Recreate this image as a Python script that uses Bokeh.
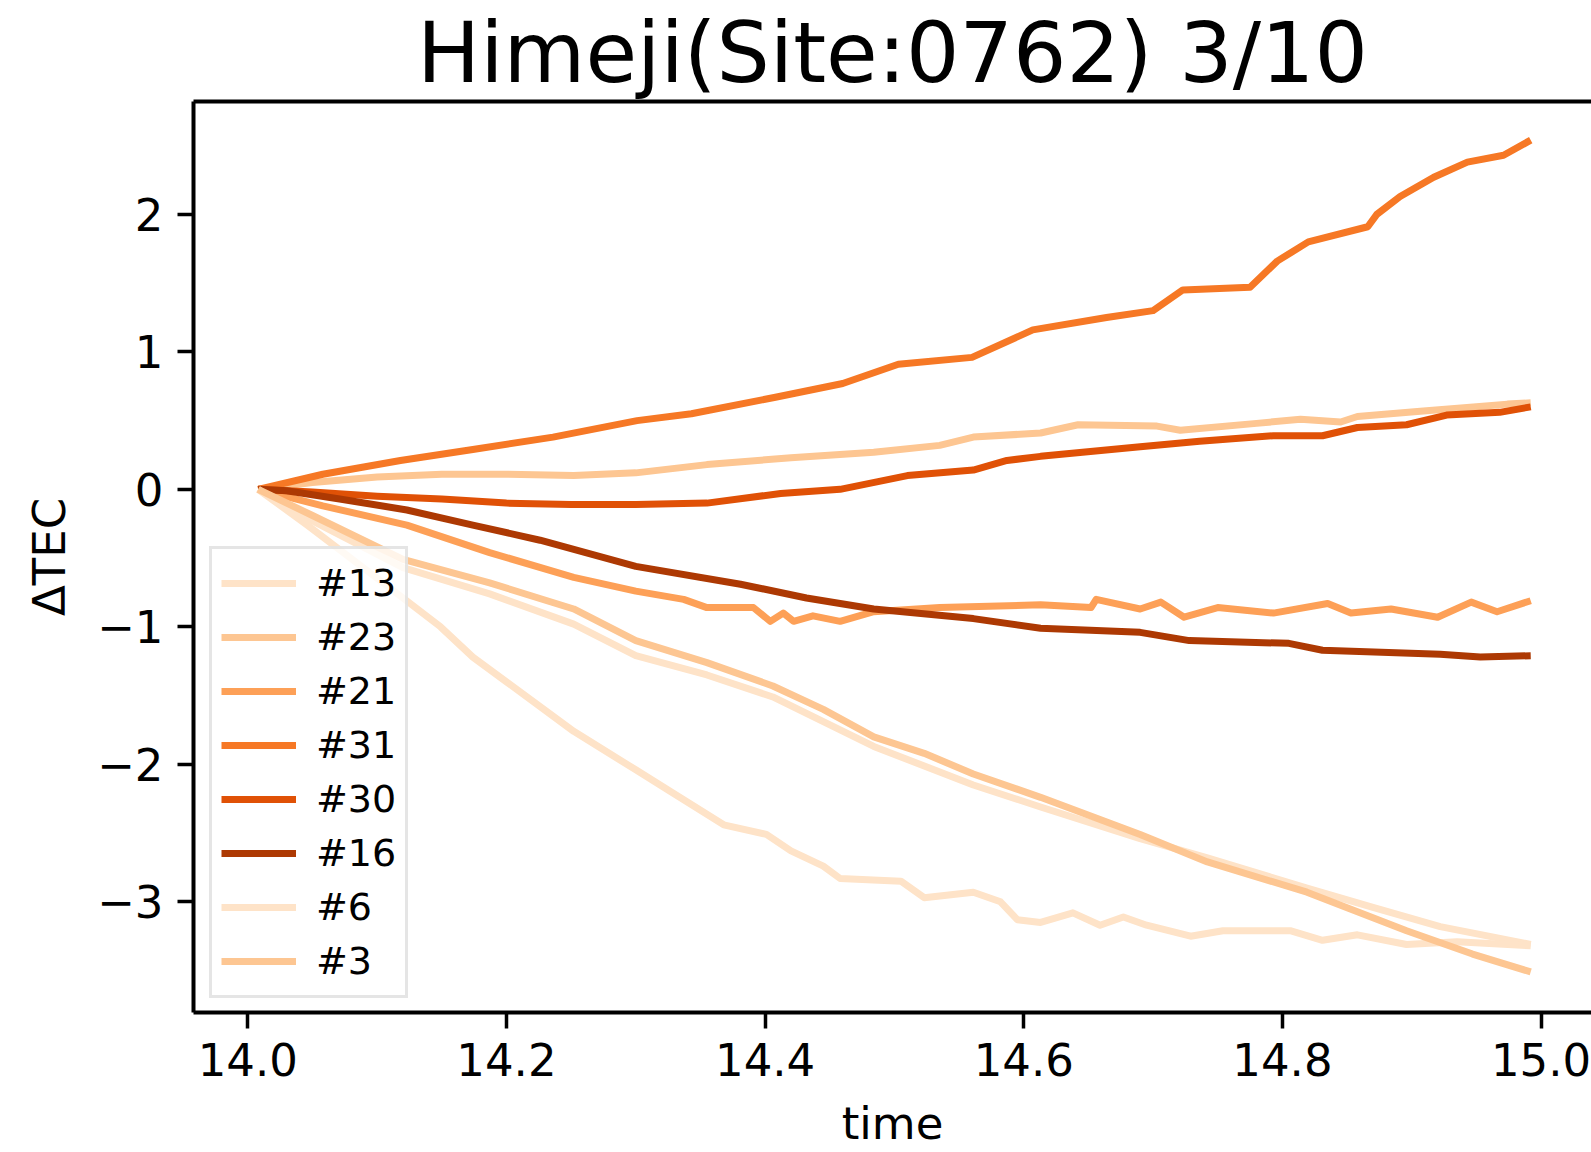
from bokeh.plotting import figure
from bokeh.models import (Legend, LegendItem, LinearAxis, FixedTicker,
                          CustomJSTickFormatter, Range1d)
from bokeh.embed import file_html
from bokeh.resources import INLINE

TITLE = "Himeji(Site:0762) 3/10"
X_LABEL = "time"
Y_LABEL = "\u0394TEC"
X_TICKS = [14.0, 14.2, 14.4, 14.6, 14.8, 15.0]
Y_TICKS = [-3, -2, -1, 0, 1, 2]

PRN = ["#13", "#23", "#21", "#31", "#30", "#16", "#6", "#3"]
COLORS = ["#fee3c8", "#fdc692", "#fda057", "#f67825",
          "#e05106", "#ad3903", "#fee3c8", "#fdc692"]

# ---- series (time in hours, dTEC) ----
t13 = [14.008, 14.05, 14.12, 14.187, 14.252, 14.30, 14.355, 14.406, 14.484,
       14.561, 14.613, 14.69, 14.742, 14.819, 14.87, 14.922, 14.992]
v13 = [0.0, -0.23, -0.57, -0.76, -0.98, -1.21, -1.35, -1.51, -1.87,
       -2.15, -2.31, -2.54, -2.68, -2.90, -3.04, -3.18, -3.31]

t23 = [14.008, 14.05, 14.10, 14.15, 14.20, 14.252, 14.30, 14.355, 14.42,
       14.484, 14.535, 14.561, 14.613, 14.642, 14.703, 14.721, 14.78,
       14.814, 14.845, 14.858, 14.909, 14.95, 14.974, 14.992]
v23 = [0.0, 0.05, 0.09, 0.11, 0.11, 0.10, 0.12, 0.18, 0.23,
       0.27, 0.32, 0.38, 0.41, 0.47, 0.46, 0.43, 0.48,
       0.51, 0.49, 0.53, 0.57, 0.60, 0.62, 0.63]

t21 = [14.008, 14.058, 14.123, 14.187, 14.252, 14.30, 14.337, 14.355, 14.391,
       14.404, 14.414, 14.422, 14.437, 14.458, 14.484, 14.535, 14.613, 14.652,
       14.656, 14.69, 14.706, 14.724, 14.75, 14.793, 14.835, 14.853, 14.884,
       14.92, 14.946, 14.966, 14.992]
v21 = [0.0, -0.12, -0.26, -0.46, -0.64, -0.74, -0.80, -0.86, -0.86,
       -0.96, -0.90, -0.96, -0.92, -0.96, -0.89, -0.86, -0.84, -0.86,
       -0.80, -0.87, -0.82, -0.93, -0.86, -0.90, -0.83, -0.90, -0.87,
       -0.93, -0.82, -0.89, -0.81]

t31 = [14.008, 14.058, 14.118, 14.174, 14.236, 14.301, 14.343, 14.408, 14.46,
       14.503, 14.56, 14.607, 14.664, 14.70, 14.723, 14.775, 14.796, 14.82,
       14.866, 14.873, 14.891, 14.917, 14.943, 14.971, 14.992]
v31 = [0.0, 0.11, 0.21, 0.29, 0.38, 0.50, 0.55, 0.67, 0.77,
       0.91, 0.96, 1.16, 1.25, 1.30, 1.45, 1.47, 1.66, 1.80,
       1.91, 2.00, 2.13, 2.27, 2.38, 2.43, 2.54]

t30 = [14.008, 14.05, 14.10, 14.15, 14.20, 14.25, 14.30, 14.355, 14.412,
       14.458, 14.51, 14.561, 14.587, 14.613, 14.69, 14.736, 14.793, 14.831,
       14.858, 14.896, 14.927, 14.968, 14.992]
v30 = [0.0, -0.02, -0.05, -0.07, -0.10, -0.11, -0.11, -0.10, -0.03,
       0.00, 0.10, 0.14, 0.21, 0.24, 0.31, 0.35, 0.39, 0.39,
       0.45, 0.47, 0.54, 0.56, 0.60]

t16 = [14.008, 14.03, 14.071, 14.123, 14.174, 14.226, 14.30, 14.381, 14.432,
       14.484, 14.561, 14.613, 14.69, 14.728, 14.805, 14.831, 14.922, 14.953,
       14.992]
v16 = [0.0, -0.01, -0.07, -0.15, -0.26, -0.37, -0.56, -0.69, -0.79,
       -0.87, -0.94, -1.01, -1.04, -1.10, -1.12, -1.17, -1.20, -1.22,
       -1.21]

t6 = [14.008, 14.046, 14.12, 14.149, 14.174, 14.20, 14.252, 14.30, 14.329,
      14.368, 14.401, 14.42, 14.445, 14.458, 14.505, 14.523, 14.561, 14.582,
      14.595, 14.613, 14.638, 14.659, 14.677, 14.695, 14.729, 14.754, 14.806,
      14.831, 14.858, 14.896, 14.935, 14.992]
v6 = [0.0, -0.26, -0.79, -1.00, -1.22, -1.40, -1.76, -2.04, -2.21,
      -2.44, -2.51, -2.63, -2.74, -2.83, -2.85, -2.97, -2.93, -3.00,
      -3.13, -3.15, -3.08, -3.17, -3.11, -3.17, -3.25, -3.21, -3.21,
      -3.28, -3.24, -3.31, -3.29, -3.32]

t3 = [14.008, 14.05, 14.12, 14.187, 14.252, 14.30, 14.355, 14.406, 14.445,
      14.484, 14.523, 14.561, 14.613, 14.69, 14.742, 14.819, 14.896, 14.947,
      14.992]
v3 = [0.0, -0.19, -0.51, -0.68, -0.87, -1.10, -1.26, -1.43, -1.60,
      -1.80, -1.92, -2.07, -2.24, -2.51, -2.71, -2.93, -3.21, -3.38,
      -3.51]

SERIES_T = [t13, t23, t21, t31, t30, t16, t6, t3]
SERIES_V = [v13, v23, v21, v31, v30, v16, v6, v3]

FONT = "DejaVu Sans"
X0, X1 = 13.958, 15.039
Y0, Y1 = -3.805, 2.821

p = figure(width=1591, height=1152,
           x_range=Range1d(X0, X1), y_range=Range1d(Y0, Y1),
           output_backend="svg", toolbar_location=None,
           min_border_left=193, min_border_right=0,
           min_border_top=101, min_border_bottom=139)
p.outline_line_color = None
p.xgrid.visible = False
p.ygrid.visible = False
p.background_fill_color = "white"
p.border_fill_color = "white"

p.title.text = TITLE
p.title.align = "center"
p.title.text_font = FONT
p.title.text_font_size = "84px"
p.title.text_font_style = "normal"
p.title.text_color = "black"
p.title.standoff = 0

for ax in (p.xaxis[0], p.yaxis[0]):
    ax.axis_line_width = 4
    ax.axis_line_color = "black"
    ax.major_tick_line_width = 3.5
    ax.major_tick_line_color = "black"
    ax.major_tick_out = 16
    ax.major_tick_in = 0
    ax.minor_tick_out = 0
    ax.minor_tick_in = 0
    ax.major_label_text_font = FONT
    ax.major_label_text_font_size = "45px"
    ax.major_label_text_color = "black"
    ax.axis_label_text_font = FONT
    ax.axis_label_text_font_size = "45px"
    ax.axis_label_text_font_style = "normal"
    ax.axis_label_text_color = "black"

p.xaxis[0].ticker = FixedTicker(ticks=X_TICKS)
p.xaxis[0].formatter = CustomJSTickFormatter(code="return tick.toFixed(1);")
p.xaxis[0].axis_label = X_LABEL
p.xaxis[0].major_label_standoff = 14
p.xaxis[0].axis_label_standoff = 18

p.yaxis[0].ticker = FixedTicker(ticks=Y_TICKS)
p.yaxis[0].formatter = CustomJSTickFormatter(
    code="return tick < 0 ? '\\u2212' + Math.abs(tick) : String(tick);")
p.yaxis[0].axis_label = Y_LABEL
p.yaxis[0].major_label_standoff = 14
p.yaxis[0].axis_label_standoff = 18

top = LinearAxis(ticker=FixedTicker(ticks=[]), major_label_text_font_size="0px",
                 major_tick_out=0, major_tick_in=0, minor_tick_out=0, minor_tick_in=0,
                 axis_line_width=4, axis_line_color="black")
p.add_layout(top, "above")

items = []
for name, col, ts, vs in zip(PRN, COLORS, SERIES_T, SERIES_V):
    r = p.line(ts, vs, line_color=col, line_width=7, line_join="round")
    items.append(LegendItem(label=name, renderers=[r]))

legend = Legend(items=items, location=(16, 14), glyph_width=75, glyph_height=50,
                label_height=50, spacing=4, padding=9, label_standoff=20, margin=0,
                label_text_font=FONT, label_text_font_size="38px",
                label_text_color="black",
                border_line_color="#cccccc", border_line_width=3,
                background_fill_color="white", background_fill_alpha=0.8)
p.add_layout(legend)

open("out.html", "w").write(file_html(p, INLINE))
